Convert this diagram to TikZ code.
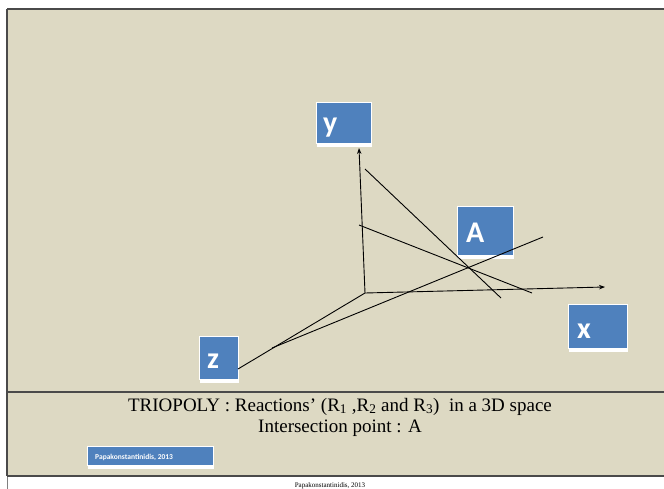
\documentclass[tikz,border=0pt]{standalone}
\usepackage{fontspec}
\setmainfont{Liberation Serif}
\newfontfamily\boxfont{Carlito}
\usetikzlibrary{arrows.meta}
\definecolor{slidebg}{HTML}{DDD9C3}
\definecolor{boxblue}{HTML}{4F81BD}
\definecolor{framegray}{HTML}{4A4A4A}
\tikzset{
  axbox/.style={draw=white, line width=1pt, fill=boxblue, inner sep=0pt,
    anchor=north west,
    preaction={fill=white, transform canvas={yshift=-3.5pt}}},
  axlbl/.style={text=white, inner sep=0pt, anchor=base west,
    font=\boxfont\bfseries\fontsize{30}{30}\selectfont},
  axisline/.style={black, line width=0.9pt},
  reaction/.style={black, line width=0.9pt},
  tip/.style={-{Stealth[length=6pt,width=4.5pt]}},
  framerule/.style={framegray, line width=1.5pt}
}
\begin{document}
\begin{tikzpicture}[x=1pt,y=-1pt]
\useasboundingbox (0,0) rectangle (664,489);
\fill[white] (0,0) rectangle (664,489);
% slide area and rules
\fill[slidebg] (7,9) rectangle (664,476);
\draw[framegray, line width=2pt] (7,9) -- (664,9);
\draw[framerule] (7,9) -- (7,476);
\draw[gray, line width=0.8pt] (7,476) -- (7,489);
\draw[framerule] (7,392) -- (664,392);
\draw[framerule] (7,476) -- (664,476);

% axis boxes
\node[axbox, minimum width=55pt, minimum height=41pt] (ybox) at (316,102) {};
\node[axbox, minimum width=56pt, minimum height=49pt] (abox) at (457,206) {};
\node[axbox, minimum width=59pt, minimum height=44pt] (xbox) at (568,304) {};
\node[axbox, minimum width=39pt, minimum height=43pt] (zbox) at (199,336) {};
\node[axlbl] (ylbl) at (323,133) {y};
\node[axlbl] (albl) at (466,243) {A};
\node[axlbl] (xlbl) at (577,338) {x};
\node[axlbl] (zlbl) at (207,368) {z};

% axes
\coordinate (O) at (365,293);
\coordinate (ytip) at (359,148);
\coordinate (xtip) at (605,287);
\coordinate (zend) at (238,369);
\draw[axisline, tip] (O) -- (ytip);
\draw[axisline, tip] (O) -- (xtip);
\draw[axisline] (O) -- (zend);

% reaction lines
\coordinate (r1a) at (272,348);
\coordinate (r1b) at (543,237);
\coordinate (r2a) at (365,169);
\coordinate (r2b) at (501,298);
\coordinate (r3a) at (359,225);
\coordinate (r3b) at (532,293);
\draw[reaction] (r1a) -- (r1b);
\draw[reaction] (r2a) -- (r2b);
\draw[reaction] (r3a) -- (r3b);

% caption
\node[anchor=base, inner sep=0pt, font=\fontsize{19}{21}\selectfont] (cap1) at (340,411)
  {TRIOPOLY : Reactions’ (R\textsubscript{1} ,R\textsubscript{2} and R\textsubscript{3})\ \ in a 3D space};
\node[anchor=base, inner sep=0pt, font=\fontsize{19}{21}\selectfont] (cap2) at (340,432)
  {Intersection point : A};

% author tag
\node[axbox, minimum width=126pt, minimum height=19pt] (tag) at (87,446) {};
\node[anchor=base west, inner sep=0pt, text=white, font=\boxfont\bfseries\fontsize{7.5}{8}\selectfont] (taglbl) at (95,459)
  {Papakonstantinidis, 2013};

% footer
\node[anchor=base, inner sep=0pt, font=\fontsize{7}{8}\selectfont] (foot) at (330,487)
  {Papakonstantinidis, 2013};
\end{tikzpicture}
\end{document}
